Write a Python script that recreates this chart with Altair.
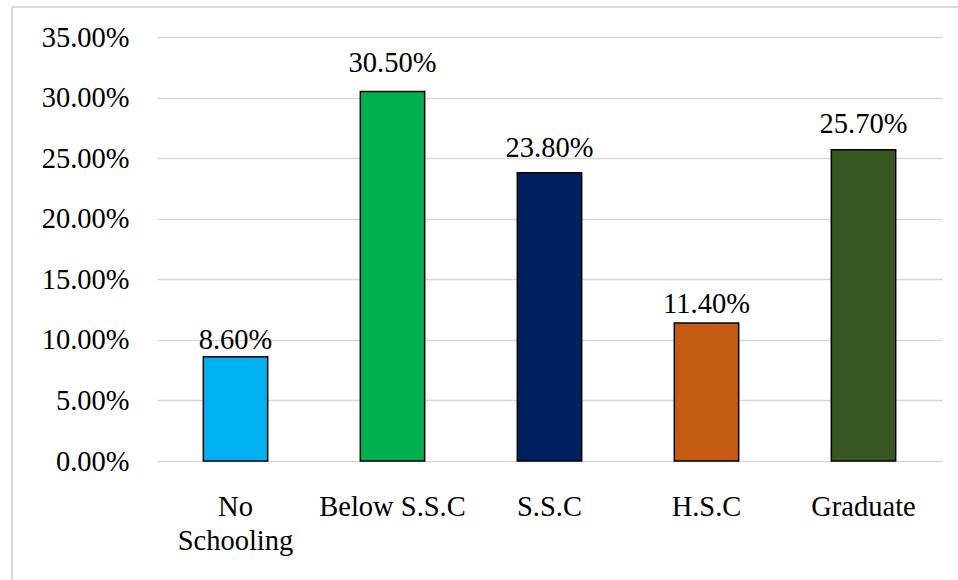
import altair as alt
import pandas as pd

categories = ["No Schooling", "Below S.S.C", "S.S.C", "H.S.C", "Graduate"]
values = [0.086, 0.305, 0.238, 0.114, 0.257]
colors = ["#00B0F0", "#00B050", "#002060", "#C55A11", "#385723"]

df = pd.DataFrame({"cat": categories, "val": values, "color": colors})

FONT = "Liberation Serif"
FS = 28.5

x = alt.X("cat:N", sort=categories, title=None,
          scale=alt.Scale(paddingInner=0.59, paddingOuter=0.295),
          axis=alt.Axis(labelAngle=0, ticks=False, domain=False, labelFont=FONT,
                        labelFontSize=FS, labelColor="#000000", labelPadding=31,
                        labelLineHeight=34,
                        labelExpr="datum.value == 'No Schooling' ? ['No', 'Schooling'] : datum.value"))
y = alt.Y("val:Q", title=None,
          scale=alt.Scale(domain=[0, 0.35], nice=False),
          axis=alt.Axis(values=[0, 0.05, 0.10, 0.15, 0.20, 0.25, 0.30, 0.35], format=".2%",
                        ticks=False, domain=False, labelFont=FONT, labelFontSize=FS,
                        labelColor="#000000", labelPadding=28, gridColor="#D9D9D9",
                        gridWidth=1.5))

bars = alt.Chart(df).mark_bar(stroke="#000000", strokeWidth=1.5).encode(
    x=x, y=y, color=alt.Color("color:N", scale=None))

text = alt.Chart(df).transform_calculate(
    lab="datum.val * 1.042 + 0.0032"
).mark_text(font=FONT, fontSize=FS, baseline="alphabetic", color="#000000").encode(
    x=alt.X("cat:N", sort=categories),
    y=alt.Y("lab:Q", scale=alt.Scale(domain=[0, 0.35], nice=False)),
    text=alt.Text("val:Q", format=".2%"))

border_top = alt.Chart(df).mark_rule(color="#D9D9D9", strokeWidth=2).encode(
    x=alt.value(-145), x2=alt.value(801), y=alt.value(-30))
border_left = alt.Chart(df).mark_rule(color="#D9D9D9", strokeWidth=2).encode(
    x=alt.value(-145), y=alt.value(-30), y2=alt.value(543))

chart = alt.layer(bars, text, border_top, border_left).properties(
    width=785, height=424,
    autosize=alt.AutoSizeParams(type="none"),
    padding={"left": 157, "top": 37, "right": 16, "bottom": 119},
    background="white",
).configure_view(strokeWidth=0, stroke="transparent")

chart.save("out.html", embed_options={"renderer": "svg", "actions": False})
